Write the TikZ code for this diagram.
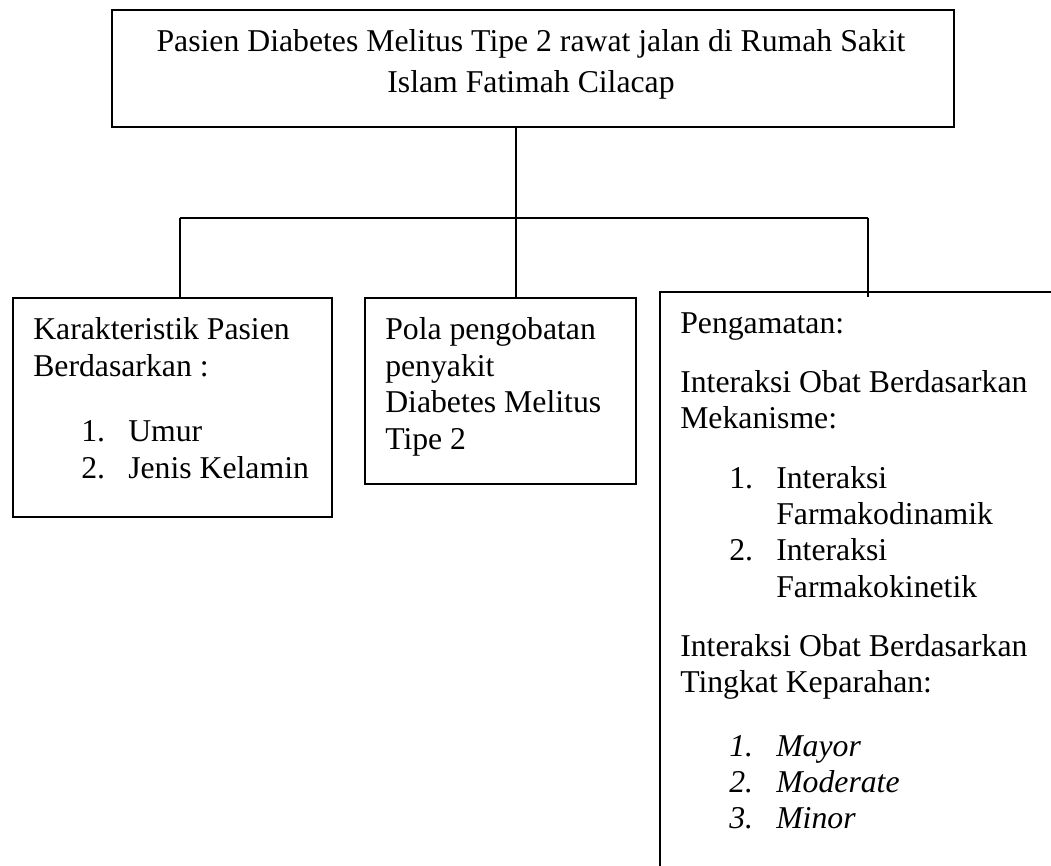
\documentclass[tikz,border=0pt]{standalone}
\usepackage{fontspec}
\setmainfont{Liberation Serif}
\begin{document}
\begin{tikzpicture}[x=0.75pt,y=-0.75pt,
  box/.style={draw, line width=1.4pt, inner sep=0pt},
  link/.style={line width=1pt},
  txt/.style={anchor=base west, inner sep=0pt, font=\fontsize{23.8}{28}\selectfont},
  itxt/.style={txt, font=\fontsize{23.8}{28}\selectfont\itshape}]
\useasboundingbox (0,0) rectangle (1051,866);
% boxes
\node[box, minimum width=631.5pt, minimum height=87.75pt] (top) at (533,68.5) {};
\node[box, minimum width=239.25pt, minimum height=164.25pt] (b1) at (172.5,407.5) {};
\node[box, minimum width=203.25pt, minimum height=139.5pt] (b2) at (500.5,391) {};
\node[inner sep=0pt, minimum width=293.25pt, minimum height=430.5pt] (b3) at (855.5,579) {};
\draw[line width=1.4pt] (b3.north east) -- (b3.north west) -- (b3.south west);
% connectors
\coordinate (hub) at (516,218);
\coordinate (bl) at (180,218);
\coordinate (br) at (868,218);
\draw[link] (top.south -| hub) -- (b2.north -| hub);
\draw[link] (bl) -- (br);
\draw[link] (bl) -- (bl |- b1.north);
\draw[link] (br) -- (br |- b1.north);
% top text
\node[txt, anchor=base] (tl1) at (531,52) {Pasien Diabetes Melitus Tipe 2 rawat jalan di Rumah Sakit};
\node[txt, anchor=base] (tl2) at (531,93) {Islam Fatimah Cilacap};
% box 1 text
\node[txt] (k1) at (33,340) {Karakteristik Pasien};
\node[txt] (k2) at (33,376.5) {Berdasarkan :};
\node[txt] (k3n) at (81,442) {1.};
\node[txt] (k3) at (128,442) {Umur};
\node[txt] (k4n) at (81,478.5) {2.};
\node[txt] (k4) at (128,478.5) {Jenis Kelamin};
% box 2 text
\node[txt] (p1) at (385,340) {Pola pengobatan};
\node[txt] (p2) at (385,376.5) {penyakit};
\node[txt] (p3) at (385,413) {Diabetes Melitus};
\node[txt] (p4) at (385,449.5) {Tipe 2};
% box 3 text
\node[txt] (g1) at (680,334) {Pengamatan:};
\node[txt] (g2) at (680,393) {Interaksi Obat Berdasarkan};
\node[txt] (g3) at (680,429) {Mekanisme:};
\node[txt] (g4n) at (729,489) {1.};
\node[txt] (g4) at (776,489) {Interaksi};
\node[txt] (g5) at (776,525) {Farmakodinamik};
\node[txt] (g6n) at (729,561) {2.};
\node[txt] (g6) at (776,561) {Interaksi};
\node[txt] (g7) at (776,597) {Farmakokinetik};
\node[txt] (g8) at (680,656) {Interaksi Obat Berdasarkan};
\node[txt] (g9) at (680,692) {Tingkat Keparahan:};
\node[itxt] (m1n) at (729,756) {1.};
\node[itxt] (m1) at (776,756) {Mayor};
\node[itxt] (m2n) at (729,792) {2.};
\node[itxt] (m2) at (776,792) {Moderate};
\node[itxt] (m3n) at (729,828) {3.};
\node[itxt] (m3) at (776,828) {Minor};
\end{tikzpicture}
\end{document}
